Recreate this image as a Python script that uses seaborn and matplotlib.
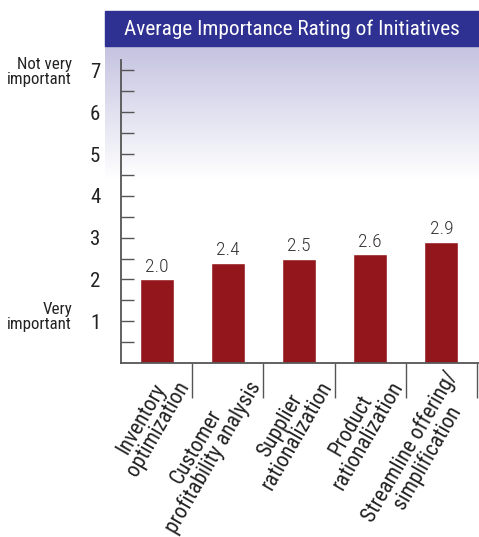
import numpy as np
import pandas as pd
import matplotlib
matplotlib.use("Agg")
import matplotlib.pyplot as plt
import matplotlib.transforms as mtransforms
from matplotlib.patches import Rectangle
import seaborn as sns

categories = ["Inventory\noptimization", "Customer\nprofitability analysis",
              "Supplier\nrationalization", "Product\nrationalization",
              "Streamline offering/\nsimplification"]
values = [2.0, 2.4, 2.5, 2.6, 2.9]
value_labels = ["2.0", "2.4", "2.5", "2.6", "2.9"]
y_ticks = [1, 2, 3, 4, 5, 6, 7]
title = "Average Importance Rating of Initiatives"

sns.set_theme(style="white")
FONT = ["Roboto Condensed", "Roboto", "DejaVu Sans"]
plt.rcParams["font.family"] = FONT

W, H = 479, 537
fig = plt.figure(figsize=(W / 100, H / 100), dpi=100)

# title bar
fig.patches.append(Rectangle((105 / W, 1 - 46 / H), 1 - 105 / W, 35 / H,
                             transform=fig.transFigure, color="#2e3192", zorder=0))
fig.text((105 + 479) / 2 / W, 1 - 29 / H, title, color="white", fontsize=15.3,
         ha="center", va="center")

# gradient background
bg = fig.add_axes([105 / W, 1 - 180 / H, 1 - 105 / W, 134 / H], zorder=0)
top = np.array([0.77, 0.765, 0.88])
grad = np.linspace(0, 1, 200)[:, None]
img = top[None, None, :] * (1 - grad[:, :, None]) + np.ones(3)[None, None, :] * grad[:, :, None]
bg.imshow(img, aspect="auto", extent=(0, 1, 0, 1))
bg.set_axis_off()

ax = fig.add_axes([121 / W, 1 - 363 / H, (479 - 121) / W, (363 - 60) / H], zorder=1)
ax.patch.set_alpha(0)
df = pd.DataFrame({"cat": categories, "val": values})
sns.barplot(data=df, x="cat", y="val", color="#93161c", width=0.48, ax=ax,
            saturation=1)

ax.set_xlim(-0.5, -0.5 + 358 / 71.2)
ax.set_ylim(0, 303 / 41.8)
ax.set_xlabel("")
ax.set_ylabel("")

for i, (v, lab) in enumerate(zip(values, value_labels)):
    ax.text(i, v + 0.08, lab, ha="center", va="bottom", fontsize=14,
            color="#333333", fontweight="light")

for s in ["top", "right"]:
    ax.spines[s].set_visible(False)
for s in ["left", "bottom"]:
    ax.spines[s].set_color("#555555")
    ax.spines[s].set_linewidth(1.3)

ax.set_yticks(y_ticks)
ax.set_yticklabels([str(t) for t in y_ticks])
ax.set_yticks(np.arange(0.5, 7.01, 1.0), minor=True)
ax.tick_params(axis="y", which="both", direction="in", length=9.5, width=1.0,
               color="#555555", pad=15, labelsize=15, labelcolor="#222222", left=True)

ax.set_xticks(range(len(categories)))
ax.set_xticklabels(categories, rotation=60, ha="right", va="center",
                   rotation_mode="anchor", fontsize=15.5, color="#222222",
                   multialignment="center", linespacing=0.9)
ax.set_xticks(np.arange(0.5, 4.6, 1.0), minor=True)
ax.tick_params(axis="x", which="major", length=0, pad=0)
ax.tick_params(axis="x", which="minor", direction="out", length=25, width=1.0,
               color="#555555", bottom=True)
offset = mtransforms.ScaledTranslation(20 / 100, -15 / 100, fig.dpi_scale_trans)
for lbl in ax.get_xticklabels():
    lbl.set_transform(lbl.get_transform() + offset)

# side annotations
fig.text(72 / W, 1 - 72 / H, "Not very\nimportant", ha="right", va="center",
         fontsize=12.2, color="#222222", linespacing=0.95)
fig.text(72 / W, 1 - 317 / H, "Very\nimportant", ha="right", va="center",
         fontsize=12.2, color="#222222", linespacing=0.95)

fig.savefig("out.png", dpi=100)
